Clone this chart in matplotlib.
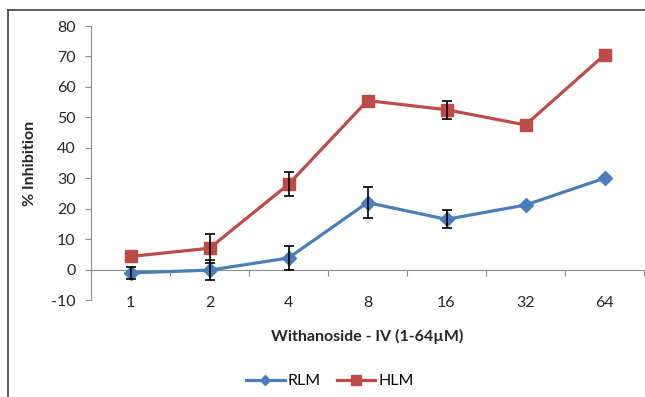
import matplotlib.pyplot as plt
import numpy as np

plt.rcParams['font.family'] = ['Lato', 'DejaVu Sans']
plt.rcParams['axes.unicode_minus'] = False

concentrations = ["1", "2", "4", "8", "16", "32", "64"]
rlm = [-1.1, -0.2, 3.8, 22.0, 16.5, 21.2, 30.0]
rlm_err = [2.0, 3.2, 4.0, 5.0, 3.0, np.nan, np.nan]
hlm = [4.3, 7.0, 28.0, 55.5, 52.5, 47.5, 70.5]
hlm_err = [np.nan, 4.8, 4.0, np.nan, 3.0, np.nan, np.nan]

blue = "#4A7EBB"
red = "#BE4B48"

fig = plt.figure(figsize=(6.45, 3.97), dpi=100)
ax = fig.add_axes([91 / 645, 1 - 300 / 397, 553 / 645, 274 / 397])

x = np.arange(len(concentrations))
ax.plot(x, rlm, color=blue, lw=2.3, marker="D", ms=7, label="RLM", zorder=3)
ax.plot(x, hlm, color=red, lw=2.3, marker="s", ms=8.5, label="HLM", zorder=3)
ax.errorbar(x, rlm, yerr=rlm_err, fmt="none", ecolor="black", elinewidth=1.2,
            capsize=3.5, capthick=1.2, zorder=4)
ax.errorbar(x, hlm, yerr=hlm_err, fmt="none", ecolor="black", elinewidth=1.2,
            capsize=3.5, capthick=1.2, zorder=4)

ax.set_xlim(-0.5, len(concentrations) - 0.5)
ax.set_ylim(-10, 80)
ax.set_yticks(range(-10, 81, 10))

for s in ["top", "right", "bottom"]:
    ax.spines[s].set_visible(False)
ax.spines["left"].set_color("#8C8C8C")
ax.tick_params(axis="y", colors="#8C8C8C", labelcolor="#262626", length=4,
               labelsize=11.5, pad=7)
ax.set_xticks(x)
ax.set_xticklabels(concentrations)
ax.tick_params(axis="x", length=0, labelsize=11.5, labelcolor="#262626", pad=-3)

# category axis crossing at zero
zero_ax = ax.secondary_xaxis(10 / 90)
zero_ax.spines["bottom"].set_color("#8C8C8C")
zero_ax.set_xticks(np.arange(-0.5, len(concentrations), 1.0))
zero_ax.set_xticklabels([])
zero_ax.tick_params(axis="x", colors="#8C8C8C", length=4)

ax.set_ylabel("% Inhibition", fontsize=11.5, fontweight="bold", color="#262626",
              labelpad=10)
ax.set_xlabel("Withanoside - IV (1-64µM)", fontsize=11.5, fontweight="bold",
              color="#262626", labelpad=14)

fig.legend(loc="center", bbox_to_anchor=(330 / 645, 1 - 381 / 397), ncol=2,
           frameon=False, fontsize=11.5, handlelength=2.4, columnspacing=1.0,
           handletextpad=0.2, markerscale=0.8)

# outer chart border (top and left visible)
fig.add_artist(plt.Line2D([8 / 645, 1], [1 - 10 / 397, 1 - 10 / 397],
                          color="#404040", lw=1.2, transform=fig.transFigure))
fig.add_artist(plt.Line2D([8 / 645, 8 / 645], [0, 1 - 10 / 397],
                          color="#404040", lw=1.2, transform=fig.transFigure))

fig.savefig("out.png", dpi=100)
